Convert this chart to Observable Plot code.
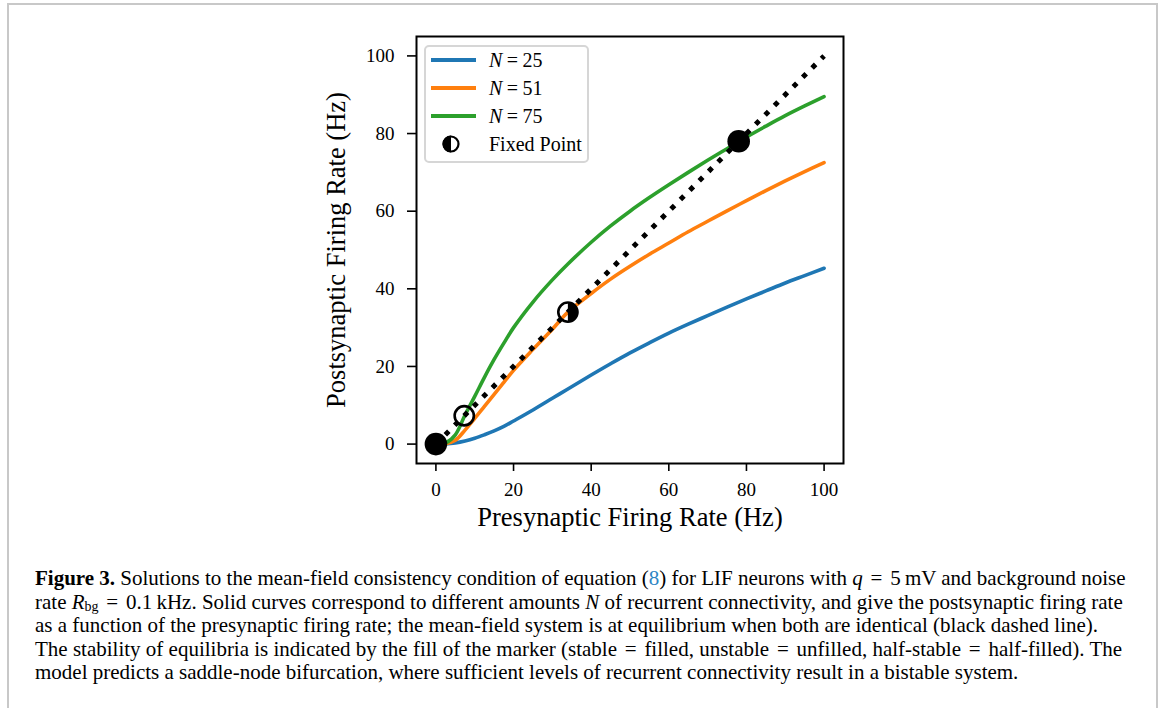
<!DOCTYPE html>
<html>
<head>
<meta charset="utf-8">
<script src="https://cdn.jsdelivr.net/npm/d3@7"></script>
<script src="https://cdn.jsdelivr.net/npm/@observablehq/plot@0.6"></script>
<style>
  html, body { margin: 0; padding: 0; background: #fff; }
  body { width: 1167px; height: 708px; position: relative; overflow: hidden; font-family: "Liberation Serif", "DejaVu Serif", serif; color: #000; }
  #border { position: absolute; left: 7px; top: 3px; width: 1151px; height: 720px; border: 2px solid #c8c8c8; border-bottom: none; box-sizing: border-box; }
  #chart { position: absolute; left: 0; top: 0; }
  #legend { position: absolute; left: 424px; top: 45px; width: 165px; height: 118px; box-sizing: border-box; border: 2px solid #d6d6d6; border-radius: 5px; background: rgba(255,255,255,0.85); font-size: 20px; }
  .lrow { position: absolute; left: 0; height: 28px; display: flex; align-items: center; }
  .lrow svg { position: absolute; left: 5px; }
  .lrow span { position: absolute; left: 63px; white-space: nowrap; }
  .eq { margin: 0 0.22em; }
  #caption { position: absolute; left: 35px; top: 567px; width: 1120px; font-size: 21px; line-height: 23.6px; white-space: nowrap; }
  #caption > div { height: 23.6px; }
  #caption b { font-weight: bold; }
  #caption .ref { color: #2f86c4; }
  #caption sub { font-size: 14px; line-height: 0; position: relative; top: 2px; vertical-align: baseline; }
  .meq { margin: 0 0.12em; }
</style>
</head>
<body>
<div id="border"></div>
<div id="chart"></div>
<div id="legend"></div>
<div id="caption">
<div><b>Figure 3.</b> Solutions to the mean-field consistency condition of equation (<span class="ref">8</span>) for LIF neurons with <i>q</i> <span class="meq">=</span> 5&#8201;mV and background noise</div>
<div>rate <i>R</i><sub>bg</sub> <span class="meq">=</span> 0.1&#8201;kHz. Solid curves correspond to different amounts <i>N</i> of recurrent connectivity, and give the postsynaptic firing rate</div>
<div>as a function of the presynaptic firing rate; the mean-field system is at equilibrium when both are identical (black dashed line).</div>
<div>The stability of equilibria is indicated by the fill of the marker (stable <span class="meq">=</span> filled, unstable <span class="meq">=</span> unfilled, half-stable <span class="meq">=</span> half-filled). The</div>
<div>model predicts a saddle-node bifurcation, where sufficient levels of recurrent connectivity result in a bistable system.</div>
</div>
<script>
// ---- data ----
const presyn = [0, 2.5, 5, 7.5, 10, 12.5, 15, 17.5, 20, 25, 30, 34, 40, 45, 50, 55, 60, 65, 70, 75, 80, 85, 90, 95, 100];
const rateN25 = [0, 0.05, 0.3, 0.8, 1.5, 2.4, 3.4, 4.55, 5.95, 8.8, 11.8, 14.2, 17.8, 20.7, 23.5, 26.1, 28.6, 30.9, 33.1, 35.3, 37.4, 39.45, 41.5, 43.4, 45.3];
const rateN51 = [0, 0.1, 1.0, 3.6, 6.6, 9.7, 12.8, 15.9, 19.0, 24.4, 29.6, 34.0, 38.8, 42.5, 45.8, 48.9, 51.8, 54.7, 57.4, 60.1, 62.7, 65.3, 67.8, 70.2, 72.5];
const rateN75 = [0, 0.3, 2.4, 7.5, 12.3, 17.2, 21.8, 26.0, 30.0, 36.6, 42.3, 46.4, 52.0, 56.2, 60.0, 63.5, 66.8, 70.0, 73.1, 76.1, 79.1, 81.9, 84.6, 87.1, 89.5];
const seriesNames = ["N = 25", "N = 51", "N = 75"];
const seriesColors = ["#1f77b4", "#ff7f0e", "#2ca02c"];
const identityX = [0, 100];
const fixedX = [0, 7.3, 34, 78];
const fixedY = [0, 7.3, 34, 78];
const fixedKind = ["stable", "unstable", "half", "stable"];
const xTicks = [0, 20, 40, 60, 80, 100];
const yTicks = [0, 20, 40, 60, 80, 100];
const xLabel = "Presynaptic Firing Rate (Hz)";
const yLabel = "Postsynaptic Firing Rate (Hz)";

// ---- build tables ----
const seriesValues = [rateN25, rateN51, rateN75];
const curves = seriesNames.flatMap((name, i) => presyn.map((x, j) => ({x, y: seriesValues[i][j], name})));
const diag = identityX.map(v => ({x: v, y: v}));
const fixed = fixedX.map((x, i) => ({x, y: fixedY[i], kind: fixedKind[i]}));

const rightHalf = {
  draw(ctx, size) {
    const r = Math.sqrt(size / Math.PI);
    ctx.moveTo(0, -r);
    ctx.arc(0, 0, r, -Math.PI / 2, Math.PI / 2);
    ctx.closePath();
  }
};

const W = 1167, H = 545;
const chart = Plot.plot({
  width: W,
  height: H,
  marginLeft: 416,
  marginRight: W - 843,
  marginTop: 36,
  marginBottom: H - 463,
  style: {fontFamily: "'Liberation Serif', serif", fontSize: "19px", color: "#000", background: "transparent"},
  x: {domain: [-5, 105]},
  y: {domain: [-5, 105]},
  color: {domain: seriesNames, range: seriesColors},
  marks: [
    Plot.line(curves, {x: "x", y: "y", z: "name", stroke: "name", strokeWidth: 3.6, curve: "catmull-rom"}),
    Plot.line(diag, {x: "x", y: "y", stroke: "#000", strokeWidth: 5, strokeDasharray: "5 8.3", strokeLinecap: "butt"}),
    Plot.dot(fixed.filter(d => d.kind === "stable"), {x: "x", y: "y", r: 11.3, fill: "#000", stroke: "none"}),
    Plot.dot(fixed.filter(d => d.kind !== "stable"), {x: "x", y: "y", r: 9.6, fill: "none", stroke: "#000", strokeWidth: 2.6}),
    Plot.dot(fixed.filter(d => d.kind === "half"), {x: "x", y: "y", r: 10.2, symbol: rightHalf, fill: "#000", stroke: "none"}),
    Plot.frame({stroke: "#000", strokeWidth: 2}),
    Plot.axisX({ticks: xTicks, tickSize: 8, tickPadding: 11, strokeWidth: 1.6, label: null, fontSize: 19}),
    Plot.axisY({ticks: yTicks, tickSize: 9, tickPadding: 13, strokeWidth: 1.6, label: null, fontSize: 19}),
    Plot.text([xLabel], {frameAnchor: "bottom", dy: 62, fontSize: 26.5, text: d => d}),
    Plot.text([yLabel], {frameAnchor: "left", dx: -80, rotate: -90, textAnchor: "middle", fontSize: 26.5, text: d => d})
  ]
});
document.getElementById("chart").appendChild(chart);

// ---- legend ----
const legend = document.getElementById("legend");
const rowsTop = [-1, 27, 55, 83];
seriesNames.forEach((name, i) => {
  const row = document.createElement("div");
  row.className = "lrow";
  row.style.top = rowsTop[i] + "px";
  row.innerHTML = `<svg width="46" height="28"><line x1="0" y1="14" x2="45" y2="14" stroke="${seriesColors[i]}" stroke-width="4"/></svg>` +
    `<span><i>N</i><span class="eq" style="position:static">=</span>${name.split("= ")[1]}</span>`;
  legend.appendChild(row);
});
const fp = document.createElement("div");
fp.className = "lrow";
fp.style.top = rowsTop[3] + "px";
fp.innerHTML = `<svg width="46" height="28"><circle cx="20" cy="14" r="7.5" fill="#fff" stroke="#000" stroke-width="2.2"/><path d="M20,5.5 A8.5,8.5 0 0 0 20,22.5 Z" fill="#000"/></svg><span>Fixed Point</span>`;
legend.appendChild(fp);
</script>
</body>
</html>
